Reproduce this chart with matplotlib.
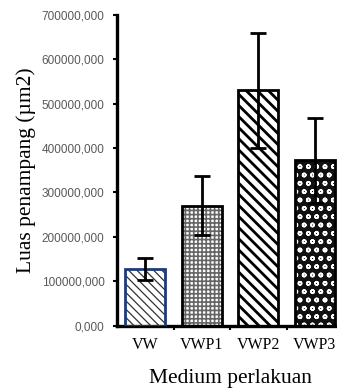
import numpy as np
import matplotlib.pyplot as plt
from matplotlib.ticker import FuncFormatter

# data
groups = ['VW', 'VWP1', 'VWP2', 'VWP3']
area = [128e6, 270e6, 530e6, 372e6]
err = [25e6, 67e6, 130e6, 95e6]

faces = ['white', 'white', 'white', '#111111']
hatches = ['\\\\\\\\', '++++', '\\\\\\', 'oo']
hatch_cols = ['#333333', '#666666', 'black', 'white']
hatch_lw = [0.9, 1.2, 2.0, 1.1]
edges = ['#1f3a78', 'black', 'black', 'black']

fig = plt.figure(figsize=(3.37, 3.89), dpi=100)
ax = fig.add_axes([117 / 337, 1 - 325.5 / 389, 226 / 337, 310.5 / 389])

x = np.arange(len(groups))
# hatch layer (hatch takes the edge colour), then outline on top
for i in range(len(groups)):
    with plt.rc_context({'hatch.linewidth': hatch_lw[i]}):
        ax.bar(x[i], area[i], width=0.7, color=faces[i], edgecolor=hatch_cols[i],
               hatch=hatches[i], linewidth=0, zorder=2)
ax.bar(x, area, width=0.7, fill=False, edgecolor=edges, linewidth=2.0, zorder=3)
ax.errorbar(x, area, yerr=err, fmt='none', ecolor='black', elinewidth=2.0,
            capsize=5.5, capthick=2.0, zorder=4)

ax.set_xlim(-0.5, 3.5)
ax.set_ylim(0, 700e6)
ax.set_yticks(np.arange(0, 700e6 + 1, 100e6))
ax.yaxis.set_major_formatter(FuncFormatter(lambda v, p: '%d,000' % (v / 1000)))
for lab in ax.get_yticklabels():
    lab.set_family('Liberation Sans')
ax.tick_params(axis='y', labelsize=8.5, labelcolor='#595959', color='black',
               length=3, width=1.5, direction='out', pad=6)

ax.set_xticks(x)
ax.set_xticklabels(groups, family='Liberation Serif', fontsize=11.5)
ax.set_xticks([0.5, 1.5, 2.5], minor=True)
ax.tick_params(axis='x', which='major', length=0, pad=8)
ax.tick_params(axis='x', which='minor', length=3, width=1.5)

for s in ['top', 'right']:
    ax.spines[s].set_visible(False)
for s in ['left', 'bottom']:
    ax.spines[s].set_linewidth(2.4)

ax.set_ylabel('Luas penampang (µm2)', family='Liberation Serif', fontsize=15.5)
ax.yaxis.set_label_coords(-0.36, 0.5)
ax.set_xlabel('Medium perlakuan', family='Liberation Serif', fontsize=15.5,
              labelpad=12)

fig.savefig('out.png', dpi=100)
